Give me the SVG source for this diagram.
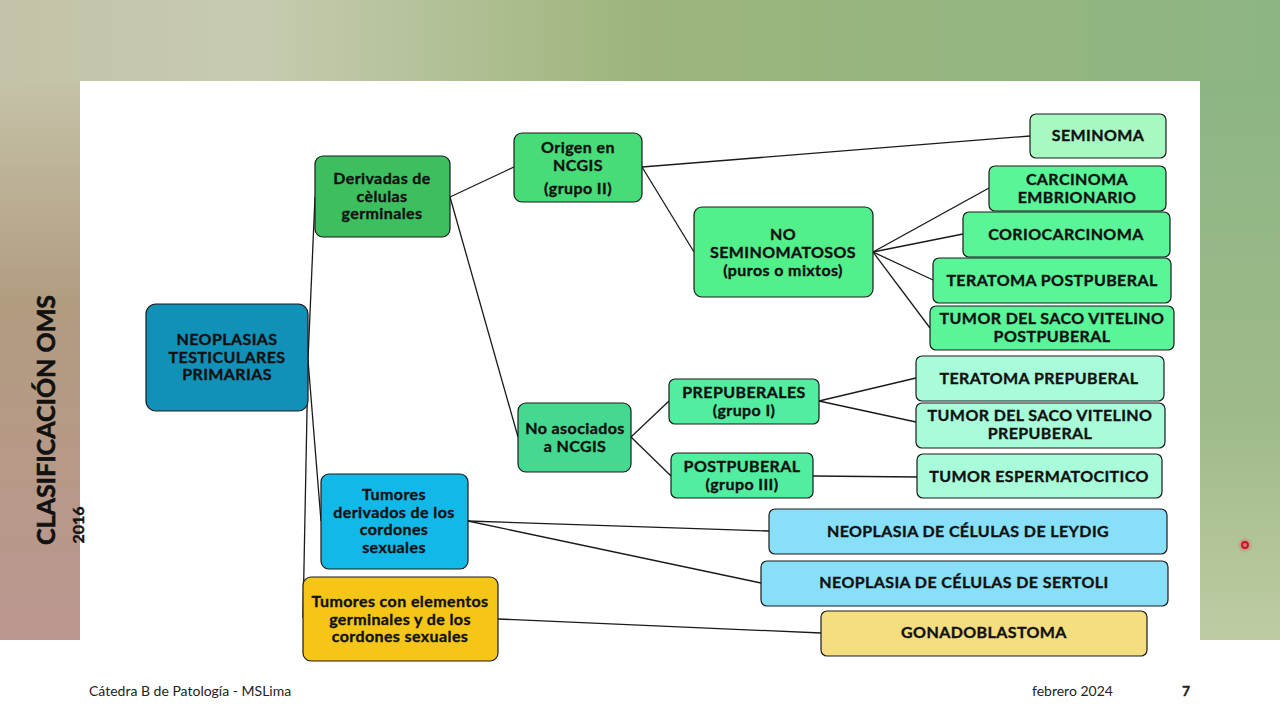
<svg xmlns="http://www.w3.org/2000/svg" width="1280" height="720" viewBox="0 0 1280 720">
<defs>
<linearGradient id="gTop" x1="0" y1="0" x2="1" y2="0">
<stop offset="0" stop-color="#c4c2a8"/>
<stop offset="0.2" stop-color="#c6cbb0"/>
<stop offset="0.5" stop-color="#9db57c"/>
<stop offset="1" stop-color="#8db584"/>
</linearGradient>
<linearGradient id="gLeft" x1="0" y1="0" x2="0" y2="1">
<stop offset="0" stop-color="#c4c2a8"/>
<stop offset="0.4" stop-color="#b29c80"/>
<stop offset="1" stop-color="#bb9690"/>
</linearGradient>
<linearGradient id="gRight" x1="0" y1="0" x2="0" y2="1">
<stop offset="0" stop-color="#8db584"/>
<stop offset="0.6" stop-color="#9fba8a"/>
<stop offset="1" stop-color="#bfcca3"/>
</linearGradient>
<radialGradient id="gDot">
<stop offset="0" stop-color="#e8304a" stop-opacity="0.6"/>
<stop offset="1" stop-color="#e8304a" stop-opacity="0"/>
</radialGradient>
</defs>
<style>
.n rect{stroke:#1a1a1a;stroke-width:1.2}
.n text{font-family:Lato,"Noto Sans",sans-serif;font-weight:700;font-size:16px;letter-spacing:0.4px;fill:#111;stroke:#111;stroke-width:0.35px;text-anchor:middle;dominant-baseline:middle;transform:translateY(1.5px)}
#connectors line{stroke:#1a1a1a;stroke-width:1.3}
.foot{font-family:Lato,"Noto Sans",sans-serif;font-size:14px;fill:#222}
.ttl{font-family:Lato,"Noto Sans",sans-serif;font-weight:700;fill:#111;stroke:#111;stroke-width:0.6px;text-anchor:middle}
</style>
<rect x="0" y="0" width="1280" height="720" fill="url(#gTop)"/>
<rect x="0" y="81" width="80" height="559" fill="url(#gLeft)"/>
<rect x="1200" y="81" width="80" height="559" fill="url(#gRight)"/>
<rect x="80" y="81" width="1120" height="559" fill="#ffffff"/>
<rect x="0" y="640" width="1280" height="80" fill="#ffffff"/>

<g id="title">
<text class="ttl" transform="translate(55,420) rotate(-90)" font-size="25">CLASIFICACIÓN OMS</text>
<text class="ttl" transform="translate(84,525) rotate(-90)" font-size="16" style="stroke-width:0.4px">2016</text>
</g>

<g id="connectors">
<line x1="308" y1="360" x2="315" y2="197"/>
<line x1="308" y1="360" x2="321" y2="521"/>
<line x1="308" y1="360" x2="303" y2="618"/>
<line x1="450" y1="197" x2="514" y2="167"/>
<line x1="450" y1="197" x2="518" y2="437"/>
<line x1="642" y1="167" x2="1030" y2="136"/>
<line x1="642" y1="167" x2="694" y2="252"/>
<line x1="873" y1="252" x2="989" y2="188"/>
<line x1="873" y1="252" x2="963" y2="234"/>
<line x1="873" y1="252" x2="933" y2="280"/>
<line x1="873" y1="252" x2="930" y2="328"/>
<line x1="631" y1="437" x2="669" y2="401"/>
<line x1="631" y1="437" x2="671" y2="476"/>
<line x1="819" y1="401" x2="916" y2="378"/>
<line x1="819" y1="401" x2="916" y2="422"/>
<line x1="813" y1="476" x2="917" y2="477"/>
<line x1="468" y1="521" x2="769" y2="531"/>
<line x1="468" y1="521" x2="761" y2="583"/>
<line x1="498" y1="619" x2="821" y2="633"/>
</g>

<g id="root" class="n"><rect x="146" y="304" width="162" height="107" rx="10" fill="#1190b8"/>
<text x="227" y="339">NEOPLASIAS</text><text x="227" y="357">TESTICULARES</text><text x="227" y="374">PRIMARIAS</text></g>

<g id="derivadas" class="n"><rect x="315" y="156" width="135" height="81" rx="8" fill="#3dbf60"/>
<text x="382" y="178">Derivadas de</text><text x="382" y="196">cèlulas</text><text x="382" y="213">germinales</text></g>

<g id="origen" class="n"><rect x="514" y="133" width="128" height="69" rx="8" fill="#47dc78"/>
<text x="578" y="147">Origen en</text><text x="578" y="165">NCGIS</text><text x="578" y="188">(grupo II)</text></g>

<g id="noseminomatosos" class="n"><rect x="694" y="207" width="179" height="90" rx="8" fill="#52f08a"/>
<text x="783" y="234">NO</text><text x="783" y="252">SEMINOMATOSOS</text><text x="783" y="270">(puros o mixtos)</text></g>

<g id="seminoma" class="n"><rect x="1030" y="114" width="136" height="44" rx="6" fill="#a8f8c2"/>
<text x="1098" y="135">SEMINOMA</text></g>

<g id="carcinoma" class="n"><rect x="989" y="166" width="177" height="45" rx="6" fill="#5af598"/>
<text x="1077" y="179">CARCINOMA</text><text x="1077" y="197">EMBRIONARIO</text></g>

<g id="coriocarcinoma" class="n"><rect x="963" y="212" width="207" height="45" rx="6" fill="#5af598"/>
<text x="1066" y="234">CORIOCARCINOMA</text></g>

<g id="teratomapost" class="n"><rect x="933" y="258" width="238" height="45" rx="6" fill="#5af598"/>
<text x="1052" y="280">TERATOMA POSTPUBERAL</text></g>

<g id="sacopost" class="n"><rect x="930" y="306" width="244" height="44" rx="6" fill="#5af598"/>
<text x="1052" y="318">TUMOR DEL SACO VITELINO</text><text x="1052" y="336">POSTPUBERAL</text></g>

<g id="noasociados" class="n"><rect x="518" y="403" width="113" height="69" rx="8" fill="#45d890"/>
<text x="575" y="428">No asociados</text><text x="575" y="446">a NCGIS</text></g>

<g id="prepuberales" class="n"><rect x="669" y="379" width="150" height="45" rx="6" fill="#52eea0"/>
<text x="744" y="392">PREPUBERALES</text><text x="744" y="410">(grupo I)</text></g>

<g id="postpuberal" class="n"><rect x="671" y="453" width="142" height="45" rx="6" fill="#52eea0"/>
<text x="742" y="466">POSTPUBERAL</text><text x="742" y="484">(grupo III)</text></g>

<g id="teratomapre" class="n"><rect x="916" y="356" width="248" height="45" rx="6" fill="#a8fcda"/>
<text x="1039" y="378">TERATOMA PREPUBERAL</text></g>

<g id="sacopre" class="n"><rect x="916" y="403" width="249" height="45" rx="6" fill="#a8fcda"/>
<text x="1040" y="415">TUMOR DEL SACO VITELINO</text><text x="1040" y="433">PREPUBERAL</text></g>

<g id="espermatocitico" class="n"><rect x="917" y="454" width="245" height="44" rx="6" fill="#a8fcda"/>
<text x="1039" y="476">TUMOR ESPERMATOCITICO</text></g>

<g id="cordones" class="n"><rect x="321" y="474" width="147" height="95" rx="8" fill="#12b8e8"/>
<text x="394" y="494">Tumores</text><text x="394" y="512">derivados de los</text><text x="394" y="529">cordones</text><text x="394" y="547">sexuales</text></g>

<g id="mixtos" class="n"><rect x="303" y="577" width="195" height="84" rx="8" fill="#f5c518"/>
<text x="400" y="601">Tumores con elementos</text><text x="400" y="619">germinales y de los</text><text x="400" y="636">cordones sexuales</text></g>

<g id="leydig" class="n"><rect x="769" y="509" width="398" height="45" rx="6" fill="#88e0f8"/>
<text x="968" y="531">NEOPLASIA DE CÉLULAS DE LEYDIG</text></g>

<g id="sertoli" class="n"><rect x="761" y="561" width="407" height="45" rx="6" fill="#88e0f8"/>
<text x="964" y="582">NEOPLASIA DE CÉLULAS DE SERTOLI</text></g>

<g id="gonadoblastoma" class="n"><rect x="821" y="611" width="326" height="45" rx="6" fill="#f5de80"/>
<text x="984" y="632">GONADOBLASTOMA</text></g>

<g id="footer">
<text class="foot" x="89" y="696">Cátedra B de Patología - MSLima</text>
<text class="foot" x="1032" y="696" font-size="13.5">febrero 2024</text>
<text class="foot" x="1182" y="696" font-weight="700" style="stroke:#222;stroke-width:0.3px">7</text>
</g>
<circle cx="1245" cy="545" r="8" fill="url(#gDot)"/>
<circle cx="1245" cy="545" r="3" fill="none" stroke="#d0102a" stroke-width="1.8"/>
</svg>
